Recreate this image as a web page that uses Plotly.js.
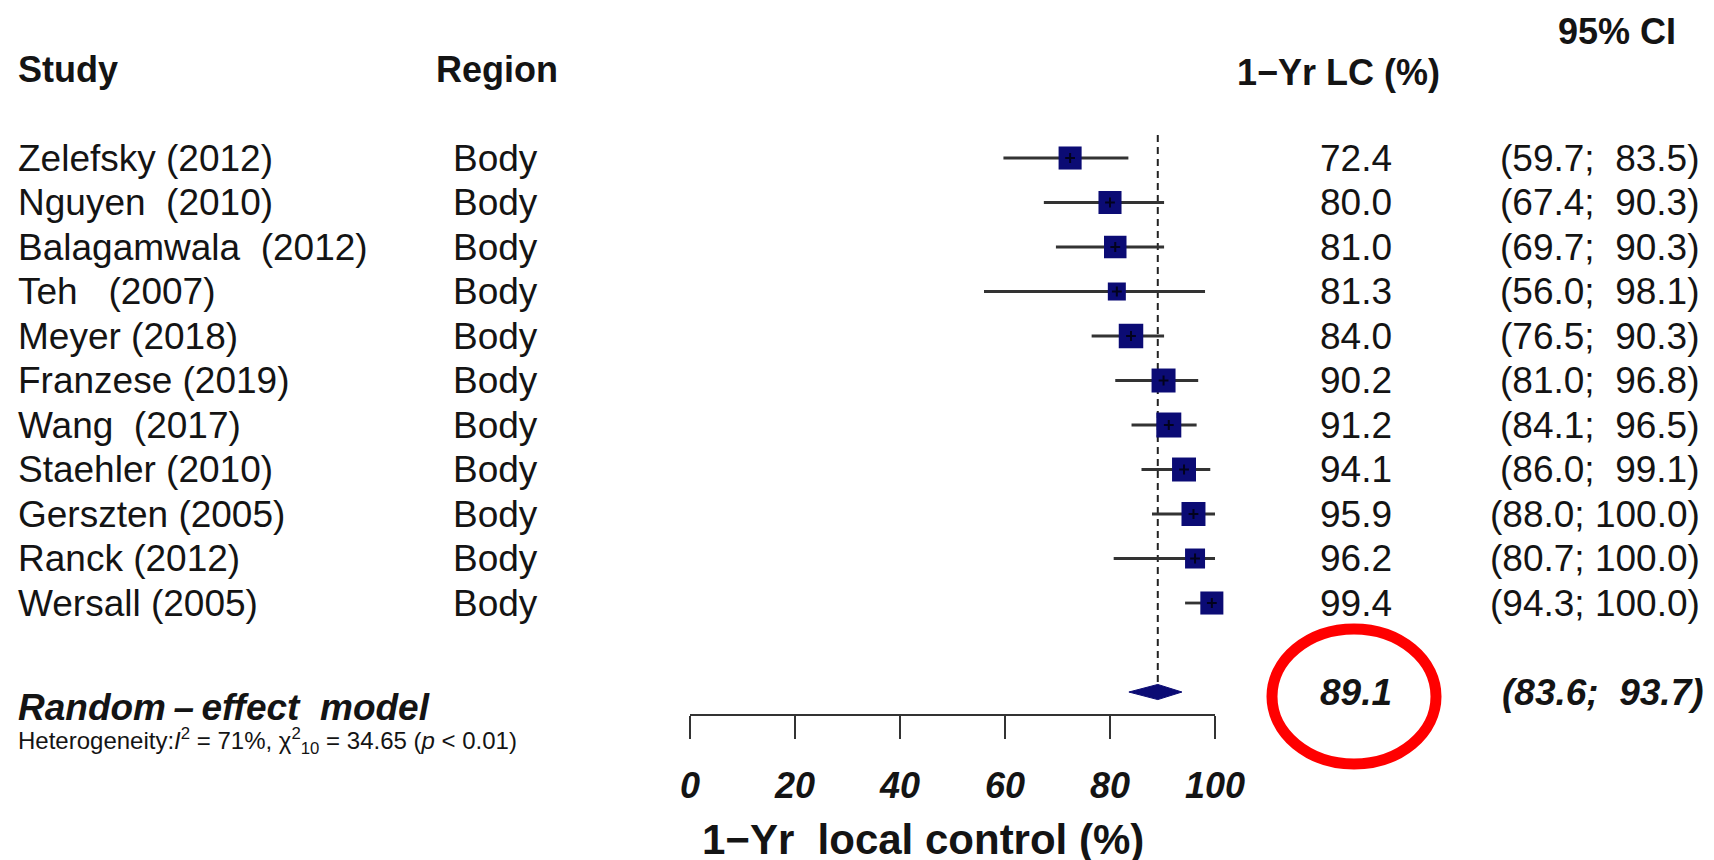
<!DOCTYPE html>
<html>
<head>
<meta charset="utf-8">
<script src="https://cdn.plot.ly/plotly-3.0.1.min.js"></script>
<style>
  html, body { margin: 0; padding: 0; background: #ffffff; }
  #chart { width: 1714px; height: 860px; }
  #chart text { white-space: pre; }
</style>
</head>
<body>
<div id="chart"></div>
<script>
// ---- data ----
const studies = ["Zelefsky (2012)", "Nguyen  (2010)", "Balagamwala  (2012)", "Teh   (2007)",
  "Meyer (2018)", "Franzese (2019)", "Wang  (2017)", "Staehler (2010)", "Gerszten (2005)", "Ranck (2012)", "Wersall (2005)"];
const regions = ["Body", "Body", "Body", "Body", "Body", "Body", "Body", "Body", "Body", "Body", "Body"];
const localControl = [72.4, 80.0, 81.0, 81.3, 84.0, 90.2, 91.2, 94.1, 95.9, 96.2, 99.4];
const ciLower = [59.7, 67.4, 69.7, 56.0, 76.5, 81.0, 84.1, 86.0, 88.0, 80.7, 94.3];
const ciUpper = [83.5, 90.3, 90.3, 98.1, 90.3, 96.8, 96.5, 99.1, 100.0, 100.0, 100.0];
const weights = [8.5, 8.5, 8.1, 5.2, 9.6, 9.2, 10.0, 9.2, 9.2, 6.4, 8.5];
const summaryLabel = "Random\u2009\u2013\u2009effect  model";
const summaryEst = 89.1;
const summaryLower = 83.6;
const summaryUpper = 93.7;
const heterogeneity = "Heterogeneity:<i>I</i><sup>2</sup> = 71%, \u03c7<sup>2</sup><sub>10</sub> = 34.65 (<i>p</i> &lt; 0.01)";
const tickValues = [0, 20, 40, 60, 80, 100];
const tickLabels = ["0", "20", "40", "60", "80", "100"];
const headers = { study: "Study", region: "Region", value: "1\u2212Yr LC (%)", ci: "95% CI" };
const axisTitle = "1\u2212Yr  local control (%)";

// ---- geometry ----
const W = 1714, H = 860;
const plotL = 690, plotR = 1215, plotT = 135, plotB = 714;
const plotW = plotR - plotL, plotH = plotB - plotT;
const px2x = px => (px - plotL) / plotW;   // pixel -> paper x
const py2y = py => (plotB - py) / plotH;   // pixel -> paper y

const rows = studies.map((_, i) => i + 1);
const summaryRow = studies.length + 2;
const yTop = 0.483, yBottom = 13.494;
const diamondHalf = 0.17;

const FONT = "Liberation Sans, Arial, Helvetica, sans-serif";
const txt = '#141414';
const navy = '#0b0b74';

const fmt = v => v.toFixed(1);
const fmtCI = (lo, hi) => "(" + fmt(lo) + ";" + (hi >= 100 ? " " : "  ") + fmt(hi) + ")";

// ---- traces ----
const ciTrace = {
  type: 'scatter', mode: 'markers', x: localControl, y: rows,
  cliponaxis: false, hoverinfo: 'skip', showlegend: false,
  marker: { symbol: 'square', color: navy, opacity: 1, size: weights.map(w => 25 * Math.sqrt(w / 10)), line: { width: 0 } },
  error_x: {
    type: 'data', symmetric: false,
    array: ciUpper.map((u, i) => u - localControl[i]),
    arrayminus: ciLower.map((l, i) => localControl[i] - l),
    color: '#333333', thickness: 2.8, width: 0
  }
};

// small dark centre mark of each estimate
const centreMark = {
  type: 'scatter', mode: 'markers', x: localControl, y: rows, cliponaxis: false,
  hoverinfo: 'skip', showlegend: false,
  marker: { symbol: 'cross-thin', size: 7, color: '#000000', opacity: 0.75, line: { width: 2, color: '#000000' } }
};

const diamond = {
  type: 'scatter', mode: 'lines', fill: 'toself', fillcolor: navy,
  x: [summaryLower, summaryEst, summaryUpper, summaryEst, summaryLower],
  y: [summaryRow, summaryRow - diamondHalf, summaryRow, summaryRow + diamondHalf, summaryRow],
  line: { color: navy, width: 1 }, cliponaxis: false, hoverinfo: 'skip', showlegend: false
};

// ---- annotations ----
const ann = [];
const base = { showarrow: false, yanchor: 'middle', font: { family: FONT, size: 37, color: txt } };
function A(o) { ann.push(Object.assign({}, base, o, { font: Object.assign({}, base.font, o.font || {}) })); }

A({ text: headers.study, xref: 'paper', yref: 'paper', x: px2x(16), y: py2y(70), xanchor: 'left', font: { weight: 'bold', size: 36 } });
A({ text: headers.region, xref: 'paper', yref: 'paper', x: px2x(434), y: py2y(70), xanchor: 'left', font: { weight: 'bold', size: 36 } });
A({ text: headers.value, xref: 'paper', yref: 'paper', x: px2x(1442), y: py2y(73), xanchor: 'right', font: { weight: 'bold', size: 36 } });
A({ text: headers.ci, xref: 'paper', yref: 'paper', x: px2x(1678), y: py2y(31), xanchor: 'right', font: { weight: 'bold', size: 36 } });

studies.forEach((s, i) => {
  A({ text: s, xref: 'paper', yref: 'y', x: px2x(16), y: rows[i], xanchor: 'left' });
  A({ text: regions[i], xref: 'paper', yref: 'y', x: px2x(451), y: rows[i], xanchor: 'left' });
  A({ text: fmt(localControl[i]), xref: 'paper', yref: 'y', x: px2x(1394), y: rows[i], xanchor: 'right' });
  A({ text: fmtCI(ciLower[i], ciUpper[i]), xref: 'paper', yref: 'y', x: px2x(1702), y: rows[i], xanchor: 'right' });
});

A({ text: summaryLabel, xref: 'paper', yref: 'paper', x: px2x(16), y: py2y(707), xanchor: 'left', font: { weight: 'bold', style: 'italic' } });
A({ text: fmt(summaryEst), xref: 'paper', yref: 'y', x: px2x(1394), y: summaryRow, xanchor: 'right', font: { weight: 'bold', style: 'italic' } });
A({ text: fmtCI(summaryLower, summaryUpper), xref: 'paper', yref: 'y', x: px2x(1706), y: summaryRow, xanchor: 'right', font: { weight: 'bold', style: 'italic' } });
A({ text: heterogeneity, xref: 'paper', yref: 'paper', x: px2x(16), y: py2y(741), xanchor: 'left', font: { size: 24 } });
A({ text: axisTitle, xref: 'paper', yref: 'paper', x: px2x(923), y: py2y(839), xanchor: 'center', font: { size: 42, weight: 'bold' } });

// ---- shapes ----
const shapes = [
  { type: 'line', xref: 'x', yref: 'y', x0: summaryEst, x1: summaryEst, y0: yTop, y1: summaryRow - diamondHalf,
    line: { color: '#222', width: 2, dash: '7px,5px' }, layer: 'below' },
  { type: 'circle', xref: 'paper', yref: 'paper',
    x0: px2x(1272), x1: px2x(1436), y0: py2y(764), y1: py2y(629),
    line: { color: '#ff0000', width: 11 }, fillcolor: 'rgba(0,0,0,0)', layer: 'above' }
];

const layout = {
  width: W, height: H, showlegend: false,
  paper_bgcolor: '#ffffff', plot_bgcolor: '#ffffff',
  margin: { l: plotL, r: W - plotR, t: plotT, b: H - plotB, pad: 0 },
  xaxis: {
    range: [0, 100], tickmode: 'array', tickvals: tickValues, ticktext: tickLabels,
    ticks: 'outside', ticklen: 23, tickwidth: 2, tickcolor: '#333',
    showline: true, linecolor: '#333', linewidth: 2, showgrid: false, zeroline: false,
    ticklabelstandoff: 16,
    tickfont: { family: FONT, size: 36, color: txt, weight: 'bold', style: 'italic' }
  },
  yaxis: {
    range: [yBottom, yTop], showticklabels: false, showgrid: false, zeroline: false,
    showline: false, ticks: ''
  },
  annotations: ann,
  shapes: shapes
};

Plotly.newPlot('chart', [ciTrace, centreMark, diamond], layout, { displayModeBar: false, staticPlot: true });
</script>
</body>
</html>
